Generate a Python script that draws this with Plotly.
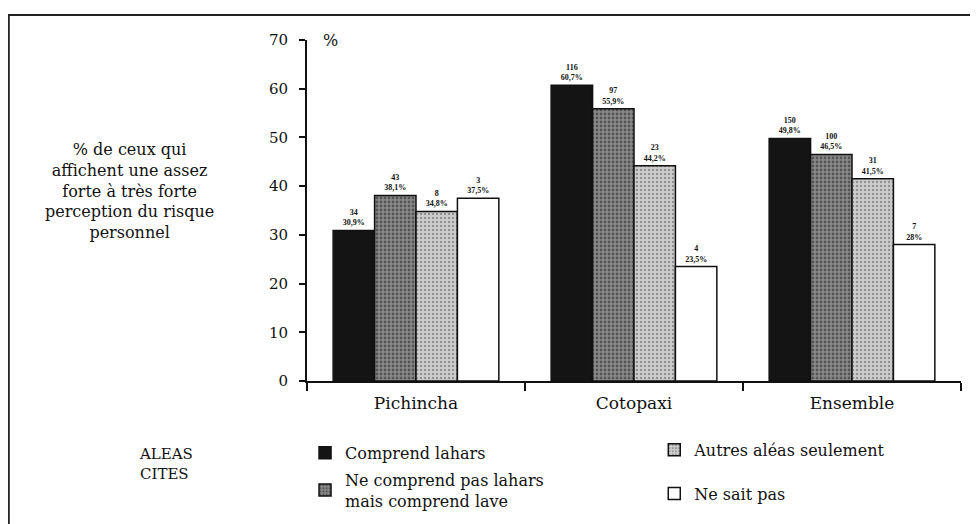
import plotly.graph_objects as go

regions = ["Pichincha", "Cotopaxi", "Ensemble"]

series_names = ["Comprend lahars",
                "Ne comprend pas lahars<br>mais comprend lave",
                "Autres aléas seulement",
                "Ne sait pas"]
pct_lahars = [30.9, 60.7, 49.8]
pct_lave = [38.1, 55.9, 46.5]
pct_autres = [34.8, 44.2, 41.5]
pct_nsp = [37.5, 23.5, 28.0]

n_lahars = [34, 116, 150]
n_lave = [43, 97, 100]
n_autres = [8, 23, 31]
n_nsp = [3, 4, 7]

lbl_lahars = ["30,9%", "60,7%", "49,8%"]
lbl_lave = ["38,1%", "55,9%", "46,5%"]
lbl_autres = ["34,8%", "44,2%", "41,5%"]
lbl_nsp = ["37,5%", "23,5%", "28%"]

y_ticks = [0, 10, 20, 30, 40, 50, 60, 70]

SERIF = "DejaVu Serif"
SMALL = "Liberation Serif"

styles = [
    dict(color="#141414", pattern=None, legend="legend"),
    dict(color="#8a8a8a", pattern=dict(shape=".", fgcolor="#222222", bgcolor="#8a8a8a", size=4, solidity=0.4), legend="legend"),
    dict(color="#cfcfcf", pattern=dict(shape=".", fgcolor="#555555", bgcolor="#cdcdcd", size=4, solidity=0.3), legend="legend2"),
    dict(color="#ffffff", pattern=None, legend="legend2"),
]

data = [(pct_lahars, n_lahars, lbl_lahars),
        (pct_lave, n_lave, lbl_lave),
        (pct_autres, n_autres, lbl_autres),
        (pct_nsp, n_nsp, lbl_nsp)]

fig = go.Figure()
for i, (name, (vals, counts, lbls), st) in enumerate(zip(series_names, data, styles)):
    marker = dict(color=st["color"], line=dict(color="#111111", width=1.5))
    if st["pattern"]:
        marker["pattern"] = st["pattern"]
    fig.add_trace(go.Bar(
        x=regions, y=vals, name=name, marker=marker,
        text=[f"<b>{c}<br>{l}</b>" for c, l in zip(counts, lbls)],
        textposition="outside", textangle=0, constraintext="none",
        textfont=dict(family=SMALL, size=8, color="#111111"),
        cliponaxis=False, legend=st["legend"], legendgroup=f"g{i}",
    ))

legend_common = dict(
    orientation="v", xanchor="left", yanchor="top",
    font=dict(family=SERIF, size=16, color="#111111"),
    bgcolor="rgba(0,0,0,0)", valign="middle", itemclick=False, itemdoubleclick=False,
)

fig.update_layout(
    width=978, height=524,
    margin=dict(l=299, r=25, t=32, b=151, autoexpand=False),
    paper_bgcolor="white", plot_bgcolor="white",
    barmode="group", bargap=0.24, bargroupgap=0,
    font=dict(family=SERIF, color="#111111"),
    showlegend=True,
    legend=dict(x=-0.003, y=-0.161, tracegroupgap=3, **legend_common),
    legend2=dict(x=0.531, y=-0.152, tracegroupgap=20, **legend_common),
    xaxis=dict(
        type="category", showline=True, linecolor="#111111", linewidth=2,
        ticks="outside", tickson="boundaries", ticklen=8, tickwidth=2, tickcolor="#111111",
        tickfont=dict(family=SERIF, size=17, color="#111111"),
        ticklabelstandoff=6,
        showgrid=False, zeroline=False,
    ),
    xaxis2=dict(
        overlaying="x", anchor="y", side="bottom", range=[-0.5, 2.5],
        tickvals=[-0.5, 0.5, 1.5, 2.5], ticks="inside", ticklen=6, tickwidth=2,
        tickcolor="#111111", showticklabels=False, showline=False, showgrid=False, zeroline=False,
    ),
    yaxis=dict(
        range=[0, 70], tickvals=y_ticks, showline=True, linecolor="#111111", linewidth=2,
        ticks="outside", ticklen=6, tickwidth=2, tickcolor="#111111",
        tickfont=dict(family=SERIF, size=15, color="#111111"),
        ticklabelstandoff=8,
        showgrid=False, zeroline=False,
    ),
    yaxis2=dict(
        overlaying="y", anchor="x", side="left", range=[0, 70], tickvals=y_ticks,
        ticks="inside", ticklen=6, tickwidth=2, tickcolor="#111111",
        showticklabels=False, showline=False, showgrid=False, zeroline=False,
    ),
)

fig.add_annotation(
    text="% de ceux qui<br>affichent une assez<br>forte à très forte<br>perception du risque<br>personnel",
    xref="paper", yref="paper", x=-0.271, y=0.557, xanchor="center", yanchor="middle",
    showarrow=False, align="center", font=dict(family=SERIF, size=16, color="#111111"),
)
fig.add_annotation(
    text="%", xref="paper", yref="paper", x=0.022, y=1.0, xanchor="left", yanchor="middle",
    showarrow=False, font=dict(family=SERIF, size=16, color="#111111"),
)
fig.add_annotation(
    text="ALEAS<br>CITES", xref="paper", yref="paper", x=-0.2156, y=-0.243,
    xanchor="center", yanchor="middle", showarrow=False, align="left",
    font=dict(family=SERIF, size=15, color="#111111"),
)
# outer frame of the figure
fig.add_shape(type="rect", xref="paper", yref="paper", x0=-0.456, x1=1.06, y0=-0.47, y1=1.073,
              line=dict(color="#222222", width=2), fillcolor="rgba(0,0,0,0)", layer="below")

fig.write_html("out.html")
